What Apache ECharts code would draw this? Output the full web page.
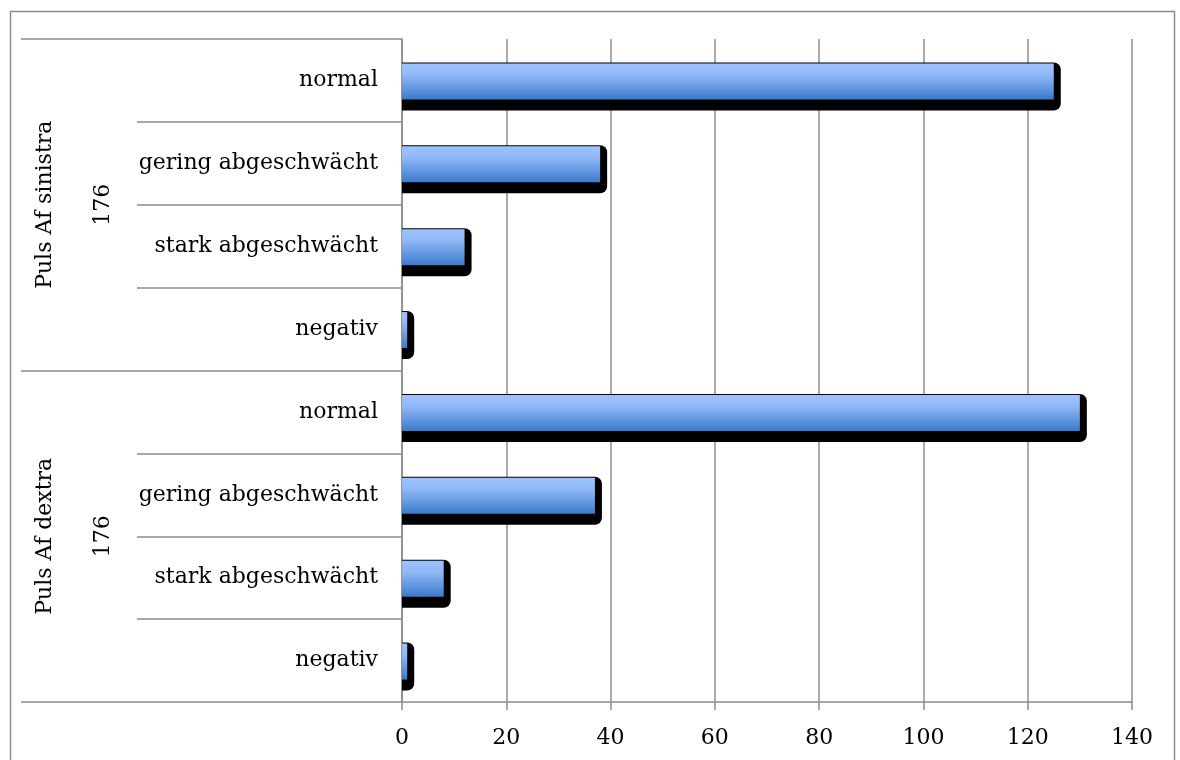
<!DOCTYPE html>
<html>
<head>
<meta charset="utf-8">
<script src="https://cdn.jsdelivr.net/npm/echarts@6/dist/echarts.min.js"></script>
<style>
  html, body { margin: 0; padding: 0; background: #fff; }
  #chart { width: 1180px; height: 760px; }
</style>
</head>
<body>
<div id="chart"></div>
<script>
// Pulse findings (A. femoralis), left and right side, n = 176 each
const groups = ['Puls Af sinistra\n176', 'Puls Af dextra\n176'];
const grades = ['normal', 'gering abgeschwächt', 'stark abgeschwächt', 'negativ'];
const sinistraValues = [125, 38, 12, 1];
const dextraValues = [130, 37, 8, 1];
const xTicks = { min: 0, max: 140, step: 20 };

const categories = grades.concat(grades);
const values = sinistraValues.concat(dextraValues);
const barData = values.map((v, i) => [v, i]);

const FONT = 'DejaVu Serif';
const LINE = '#8c8c8c';

const chart = echarts.init(document.getElementById('chart'));

// Bar with a hard black drop shadow to the lower right
function renderBar(params, api) {
  const cat = api.value(1);
  const v = api.value(0);
  const start = api.coord([0, cat]);
  const end = api.coord([v, cat]);
  const band = api.size([0, 1])[1];
  const h = band * 0.435;
  const top = start[1] - h / 2 + 1;
  const w = end[0] - start[0];
  return {
    type: 'group',
    children: [
      {
        type: 'rect',
        shape: { x: start[0], y: top - 1, width: w + 7, height: h + 12, r: [0, 7, 7, 0] },
        style: { fill: '#000' }
      },
      {
        type: 'rect',
        shape: { x: start[0], y: top, width: w, height: h },
        style: {
          fill: new echarts.graphic.LinearGradient(0, 0, 0, 1, [
            { offset: 0, color: '#9cc2ff' },
            { offset: 0.3, color: '#92b9f7' },
            { offset: 1, color: '#3c7acb' }
          ])
        }
      }
    ]
  };
}

chart.setOption({
  animation: false,
  backgroundColor: '#fff',
  graphic: [{
    type: 'rect',
    left: 8, top: 9,
    shape: { width: 1164, height: 790 },
    style: { fill: 'none', stroke: LINE, lineWidth: 1.5 },
    silent: true
  }],
  grid: { left: 402, right: 48, top: 39, bottom: 58, containLabel: false },
  xAxis: {
    type: 'value',
    min: xTicks.min, max: xTicks.max, interval: xTicks.step,
    axisLine: { show: true, lineStyle: { color: LINE, width: 1.5 } },
    axisTick: { show: true, length: 8, lineStyle: { color: LINE, width: 1.5 } },
    splitLine: { show: true, lineStyle: { color: LINE, width: 1.5 } },
    axisLabel: { color: '#000', fontFamily: FONT, fontSize: 22, margin: 25 }
  },
  yAxis: [
    {
      type: 'category',
      data: categories,
      inverse: true,
      axisLine: { show: true, onZero: false, lineStyle: { color: LINE, width: 1.5 } },
      axisTick: { show: true, length: 265, lineStyle: { color: LINE, width: 1.5 } },
      axisLabel: { color: '#000', fontFamily: FONT, fontSize: 22, margin: 24, padding: [4, 0, 0, 0] },
      splitLine: { show: false }
    },
    {
      type: 'category',
      data: groups,
      inverse: true,
      position: 'left',
      axisLine: { show: false },
      axisTick: { show: true, length: 381, lineStyle: { color: LINE, width: 1.5 } },
      axisLabel: {
        color: '#000', fontFamily: FONT, fontSize: 22,
        rotate: 90, margin: 270, lineHeight: 58
      },
      splitLine: { show: false }
    }
  ],
  series: [{
    type: 'custom',
    yAxisIndex: 0,
    renderItem: renderBar,
    encode: { x: 0, y: 1 },
    data: barData,
    clip: false
  }]
});
</script>
</body>
</html>
